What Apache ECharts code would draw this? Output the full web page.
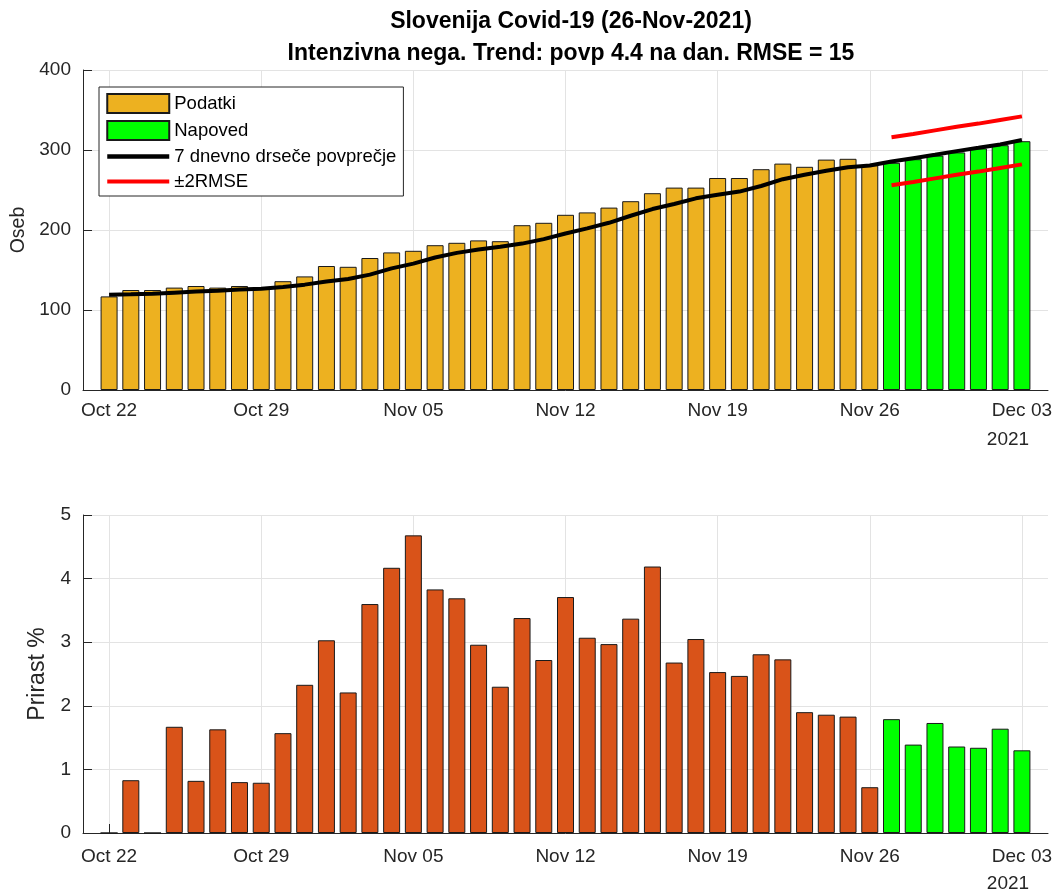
<!DOCTYPE html>
<html>
<head>
<meta charset="utf-8">
<script src="https://cdn.jsdelivr.net/npm/echarts@6/dist/echarts.min.js"></script>
<style>
  html, body { margin: 0; padding: 0; background: #fff; }
  #main { width: 1060px; height: 892px; }
</style>
</head>
<body>
<div id="main"></div>
<script>
// days counted from Oct 22 2021 (0) to Dec 03 2021 (42)
var tickDays = [0, 7, 14, 21, 28, 35, 42];
var tickLabels = ['Oct 22', 'Oct 29', 'Nov 05', 'Nov 12', 'Nov 19', 'Nov 26', 'Dec 03'];

// zasedenost intenzivne nege (Oct 22 - Nov 26)
var podatki = [117, 125, 125, 128, 130, 128, 130, 127, 136, 142,
  155, 154, 165, 172, 174, 181, 184, 187, 186, 206,
  209, 219, 222, 228, 236, 246, 253, 253, 265, 265,
  276, 283, 279, 288, 289, 281];
// napoved (Nov 27 - Dec 03)
var napoved = [284, 288.5, 293, 297, 302, 306, 311];
// 7 dnevno drseče povprečje (Oct 22 - Dec 03)
var povprecje = [119.1, 119.6, 120.4, 121.7, 123, 124.2, 125.5, 126.7, 128.8, 131.7,
  135.5, 138.8, 144.2, 152, 158, 165.6, 171.4, 175.6, 179, 183,
  188.6, 195.7, 202, 209, 217.8, 226.2, 232.5, 239.6, 244, 248,
  255, 263.5, 269, 274, 278.5, 280.6, 285.6, 289.8, 294, 298.6,
  302.7, 307, 312.4];
var zgornja = [316, 320, 324.5, 329, 333, 337.5, 342];
var spodnja = [256, 260, 264.5, 269, 273, 277.5, 282];

// prirast %
var prirast = [0, 0.83, 0, 1.67, 0.82, 1.63, 0.80, 0.79, 1.57, 2.33,
  3.03, 2.21, 3.60, 4.17, 4.68, 3.83, 3.69, 2.96, 2.30, 3.38,
  2.72, 3.71, 3.07, 2.97, 3.37, 4.19, 2.68, 3.05, 2.53, 2.47,
  2.81, 2.73, 1.90, 1.86, 1.83, 0.72];
var prirastNapoved = [1.79, 1.39, 1.73, 1.36, 1.34, 1.64, 1.30];

var FONT = 'Liberation Sans, Arial, Helvetica, sans-serif';
var TXT = '#262626';

function pairs(arr, start) {
  return arr.map(function (v, i) { return [start + i, v]; });
}

function makeX(gi, margin) {
  return {
    type: 'value',
    gridIndex: gi,
    min: -1.2,
    max: 43.2,
    axisLine: { onZero: false, lineStyle: { color: TXT, width: 1 } },
    axisTick: { inside: true, length: 9, customValues: tickDays, lineStyle: { color: TXT } },
    axisLabel: {
      customValues: tickDays,
      margin: margin,
      fontSize: 19,
      fontFamily: FONT,
      color: TXT,
      formatter: function (v) {
        var k = tickDays.indexOf(Math.round(v));
        return k >= 0 ? tickLabels[k] : '';
      }
    },
    splitLine: { show: true, lineStyle: { color: '#e3e3e3', width: 1 } }
  };
}

function makeY(gi, max, interval, name, gap, nameSize) {
  return {
    type: 'value',
    gridIndex: gi,
    min: 0,
    max: max,
    interval: interval,
    name: name,
    nameLocation: 'middle',
    nameGap: gap,
    nameTextStyle: { fontSize: nameSize, fontFamily: FONT, color: TXT },
    axisLine: { show: true, onZero: false, lineStyle: { color: TXT, width: 1 } },
    axisTick: { show: true, inside: true, length: 9, lineStyle: { color: TXT } },
    axisLabel: { margin: 12, fontSize: 19, fontFamily: FONT, color: TXT },
    splitLine: { show: true, lineStyle: { color: '#e3e3e3', width: 1 } }
  };
}

var edge = { borderColor: '#1a1a1a', borderWidth: 1 };

var myChart = echarts.init(document.getElementById('main'));

var option = {
  backgroundColor: '#ffffff',
  animation: false,
  title: {
    text: 'Slovenija Covid-19 (26-Nov-2021)\nIntenzivna nega. Trend: povp 4.4 na dan. RMSE = 15',
    left: 566,
    textAlign: 'center',
    top: 1,
    textStyle: { fontSize: 23, fontWeight: 'bold', fontFamily: FONT, color: '#000', lineHeight: 32 }
  },
  legend: {
    orient: 'vertical',
    left: 99,
    top: 87,
    padding: [6, 7, 5, 6],
    itemWidth: 62,
    itemHeight: 19,
    itemGap: 6,
    backgroundColor: '#ffffff',
    borderColor: TXT,
    borderWidth: 1,
    borderRadius: 0,
    textStyle: { fontSize: 18.5, fontFamily: FONT, color: '#000', lineHeight: 19 },
    data: [
      { name: 'Podatki', icon: 'rect' },
      { name: 'Napoved', icon: 'rect' },
      { name: '7 dnevno drseče povprečje', itemStyle: { opacity: 0 }, lineStyle: { width: 4.5 } },
      { name: '±2RMSE', itemStyle: { opacity: 0 }, lineStyle: { width: 4 } }
    ]
  },
  grid: [
    { left: 83, right: 12, top: 70, height: 320 },
    { left: 83, right: 12, top: 515, height: 318 }
  ],
  xAxis: [makeX(0, 11), makeX(1, 14)],
  yAxis: [makeY(0, 400, 100, 'Oseb', 49, 19.5), makeY(1, 5, 1, 'Prirast %', 24, 23)],
  graphic: [
    { type: 'text', x: 1008, y: 440, style: { text: '2021', font: '19px ' + FONT, fill: TXT, align: 'center', verticalAlign: 'middle' } },
    { type: 'text', x: 1008, y: 884, style: { text: '2021', font: '19px ' + FONT, fill: TXT, align: 'center', verticalAlign: 'middle' } }
  ],
  series: [
    {
      name: 'Podatki', type: 'bar', xAxisIndex: 0, yAxisIndex: 0,
      barWidth: 17, barGap: '-100%',
      itemStyle: Object.assign({ color: '#EDB120' }, edge),
      data: pairs(podatki, 0)
    },
    {
      name: 'Napoved', type: 'bar', xAxisIndex: 0, yAxisIndex: 0,
      barWidth: 17, barGap: '-100%',
      itemStyle: Object.assign({ color: '#00FF00' }, edge),
      data: pairs(napoved, podatki.length)
    },
    {
      name: '7 dnevno drseče povprečje', type: 'line', xAxisIndex: 0, yAxisIndex: 0,
      symbol: 'none', z: 5,
      lineStyle: { color: '#000', width: 4 },
      itemStyle: { color: '#000' },
      data: pairs(povprecje, 0)
    },
    {
      name: '±2RMSE', type: 'line', xAxisIndex: 0, yAxisIndex: 0,
      symbol: 'none', z: 5,
      lineStyle: { color: '#FF0000', width: 4 },
      itemStyle: { color: '#FF0000' },
      data: pairs(zgornja, podatki.length)
    },
    {
      name: '±2RMSE', type: 'line', xAxisIndex: 0, yAxisIndex: 0,
      symbol: 'none', z: 5,
      lineStyle: { color: '#FF0000', width: 4 },
      itemStyle: { color: '#FF0000' },
      data: pairs(spodnja, podatki.length)
    },
    {
      name: 'Prirast', type: 'bar', xAxisIndex: 1, yAxisIndex: 1,
      barWidth: 17, barGap: '-100%',
      itemStyle: Object.assign({ color: '#D95319' }, edge),
      data: pairs(prirast, 0)
    },
    {
      name: 'Prirast napoved', type: 'bar', xAxisIndex: 1, yAxisIndex: 1,
      barWidth: 17, barGap: '-100%',
      itemStyle: Object.assign({ color: '#00FF00' }, edge),
      data: pairs(prirastNapoved, prirast.length)
    }
  ]
};

myChart.setOption(option);
</script>
</body>
</html>
